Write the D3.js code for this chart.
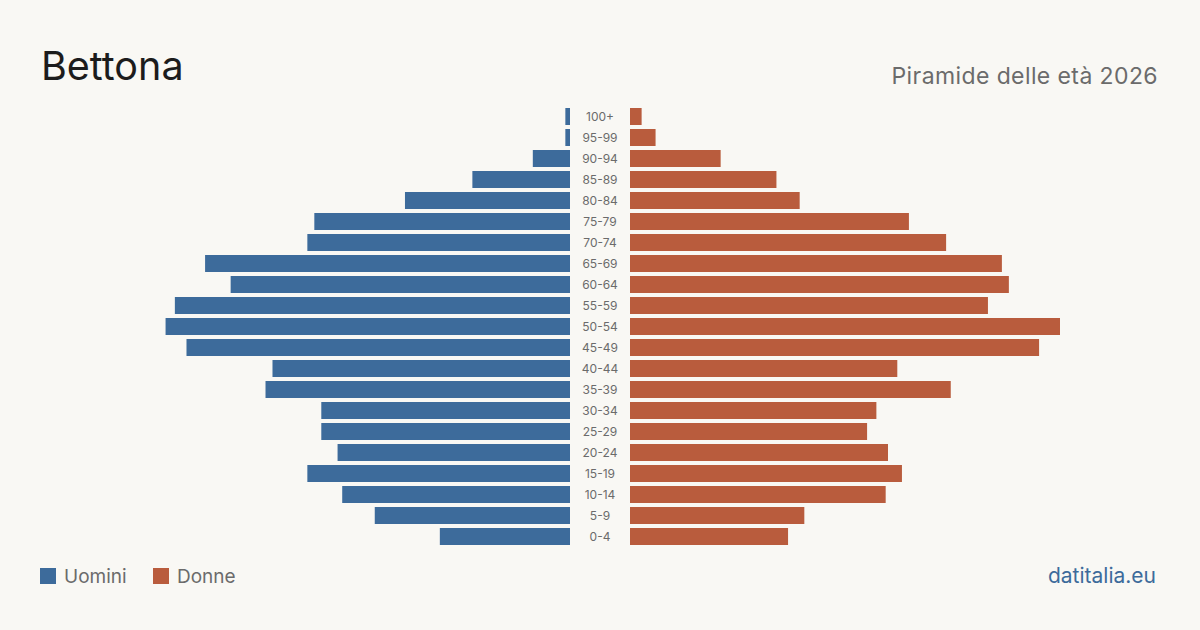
<!DOCTYPE html>
<html>
<head>
<meta charset="utf-8">
<script src="https://cdn.jsdelivr.net/npm/d3@7"></script>
<style>
  html, body { margin: 0; padding: 0; background: #f9f8f4; }
  svg { display: block; font-family: Inter, "Noto Sans", sans-serif; }
</style>
</head>
<body>
<svg id="chart" width="1200" height="630"></svg>
<script>
// DATA
var ageGroups = ["100+", "95-99", "90-94", "85-89", "80-84", "75-79", "70-74", "65-69", "60-64", "55-59",
  "50-54", "45-49", "40-44", "35-39", "30-34", "25-29", "20-24", "15-19", "10-14", "5-9", "0-4"];
var men = [2, 2, 16, 42, 71, 110, 113, 157, 146, 170, 174, 165, 128, 131, 107, 107, 100, 113, 98, 84, 56];
var women = [5, 11, 39, 63, 73, 120, 136, 160, 163, 154, 185, 176, 115, 138, 106, 102, 111, 117, 110, 75, 68];

var title = "Bettona",
  subtitle = "Piramide delle età 2026",
  legendLabels = ["Uomini", "Donne"],
  source = "datitalia.eu";

// SETUP
var svg = d3.select("#chart"),
  blue = "#3d6b9b",
  red = "#b95c3d",
  center = 600,
  gapHalf = 30,
  maxLen = 430;

svg.append("rect").attr("width", 1200).attr("height", 630).attr("fill", "#f9f8f4");

var x = d3.scaleLinear()
  .domain([0, d3.max(men.concat(women))])
  .range([0, maxLen]);

// step 21px, bar 17px
var y = d3.scaleBand()
  .domain(ageGroups)
  .range([108, 108 + 21 * ageGroups.length - 4])
  .paddingInner(4 / 21)
  .paddingOuter(0);

// BARS
svg.append("g").selectAll("rect")
  .data(men)
  .enter().append("rect")
  .attr("x", function (d) { return center - gapHalf - x(d); })
  .attr("y", function (d, i) { return y(ageGroups[i]); })
  .attr("width", function (d) { return x(d); })
  .attr("height", y.bandwidth())
  .attr("fill", blue);

svg.append("g").selectAll("rect")
  .data(women)
  .enter().append("rect")
  .attr("x", center + gapHalf)
  .attr("y", function (d, i) { return y(ageGroups[i]); })
  .attr("width", function (d) { return x(d); })
  .attr("height", y.bandwidth())
  .attr("fill", red);

// AGE LABELS
svg.append("g").selectAll("text")
  .data(ageGroups)
  .enter().append("text")
  .attr("x", center)
  .attr("y", function (d) { return y(d) + y.bandwidth() / 2; })
  .attr("dy", "0.35em")
  .attr("text-anchor", "middle")
  .attr("font-size", 12)
  .attr("fill", "#6b6b6b")
  .text(function (d) { return d; });

// TITLES
svg.append("text")
  .attr("x", 41).attr("y", 80)
  .attr("font-size", 39.5)
  .attr("fill", "#1c1c1c")
  .text(title);

svg.append("text")
  .attr("x", 1158).attr("y", 84)
  .attr("text-anchor", "end")
  .attr("font-size", 23)
  .attr("letter-spacing", 0.4)
  .attr("fill", "#6b6b6b")
  .text(subtitle);

// LEGEND
var legend = svg.append("g").selectAll("g")
  .data(legendLabels)
  .enter().append("g")
  .attr("transform", function (d, i) { return "translate(" + (40 + i * 113) + ",568)"; });

legend.append("rect")
  .attr("width", 16).attr("height", 16)
  .attr("fill", function (d, i) { return i === 0 ? blue : red; });

legend.append("text")
  .attr("x", 24).attr("y", 15)
  .attr("font-size", 19)
  .attr("fill", "#6b6b6b")
  .text(function (d) { return d; });

svg.append("text")
  .attr("x", 1156).attr("y", 583)
  .attr("text-anchor", "end")
  .attr("font-size", 21)
  .attr("fill", "#3d6b9b")
  .text(source);
</script>
</body>
</html>
